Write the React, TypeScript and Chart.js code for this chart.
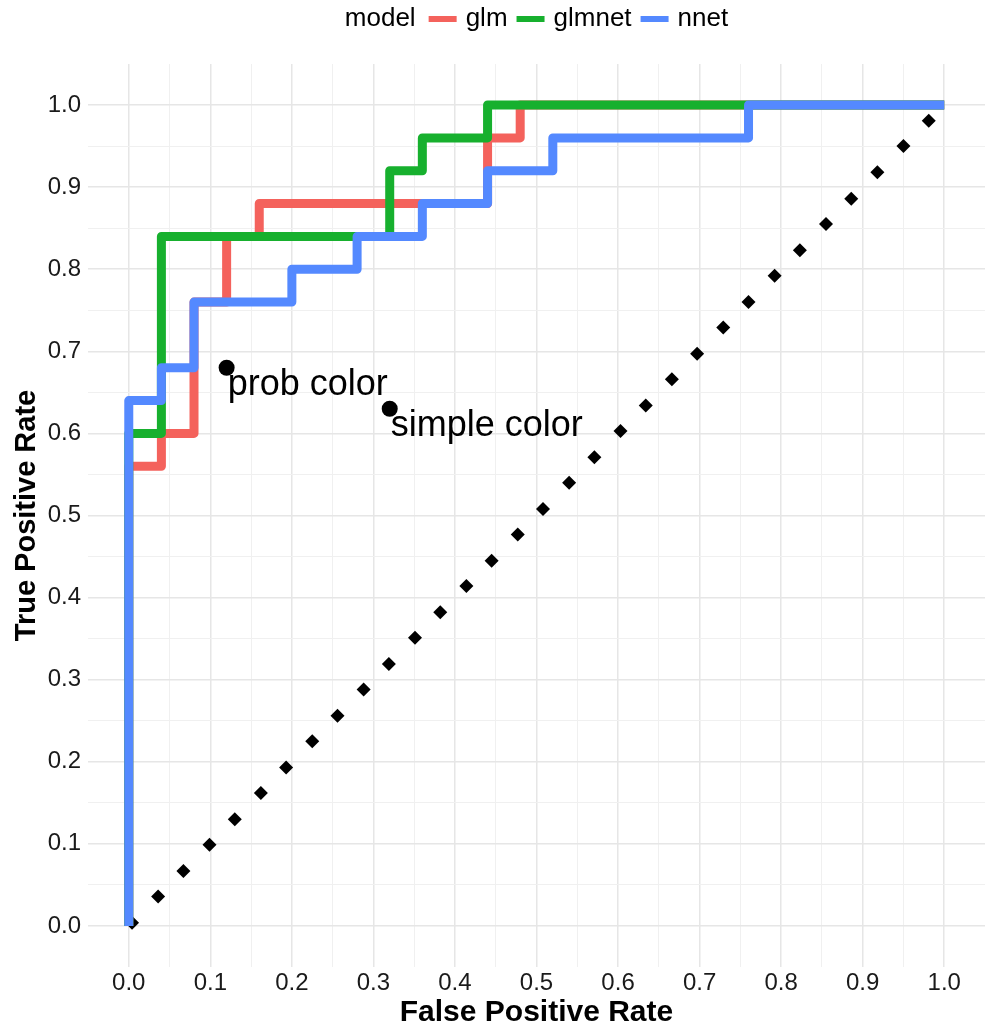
import React, { useEffect, useRef } from "react";
import { Chart, registerables } from "chart.js";

Chart.register(...registerables);

// ---- axis ticks ----
const majorTicks = [0, 0.1, 0.2, 0.3, 0.4, 0.5, 0.6, 0.7, 0.8, 0.9, 1.0];
const tickLabels = ["0.0", "0.1", "0.2", "0.3", "0.4", "0.5", "0.6", "0.7", "0.8", "0.9", "1.0"];
const minorTicks = [0.05, 0.15, 0.25, 0.35, 0.45, 0.55, 0.65, 0.75, 0.85, 0.95];

// ---- legend / series ----
const modelNames = ["glm", "glmnet", "nnet"];
const modelColors = ["#F4625C", "#17B02E", "#5489FF"];

const glmFpr = [0, 0, 0.04, 0.04, 0.08, 0.08, 0.12, 0.12, 0.16, 0.16, 0.44, 0.44, 0.48, 0.48, 1.0];
const glmTpr = [0, 0.56, 0.56, 0.6, 0.6, 0.76, 0.76, 0.84, 0.84, 0.88, 0.88, 0.96, 0.96, 1.0, 1.0];

const glmnetFpr = [0, 0, 0.04, 0.04, 0.32, 0.32, 0.36, 0.36, 0.44, 0.44, 1.0];
const glmnetTpr = [0, 0.6, 0.6, 0.84, 0.84, 0.92, 0.92, 0.96, 0.96, 1.0, 1.0];

const nnetFpr = [0, 0, 0.04, 0.04, 0.08, 0.08, 0.2, 0.2, 0.28, 0.28, 0.36, 0.36, 0.44, 0.44, 0.52, 0.52, 0.76, 0.76, 1.0];
const nnetTpr = [0, 0.64, 0.64, 0.68, 0.68, 0.76, 0.76, 0.8, 0.8, 0.84, 0.84, 0.88, 0.88, 0.92, 0.92, 0.96, 0.96, 1.0, 1.0];

// ---- reference diagonal (diamonds) ----
const diagFpr = [0.004, 0.036, 0.067, 0.099, 0.130, 0.162, 0.193, 0.225, 0.256, 0.288, 0.319, 0.351, 0.382, 0.414, 0.445, 0.477, 0.508, 0.540, 0.571, 0.603, 0.634, 0.666, 0.697, 0.729, 0.760, 0.792, 0.823, 0.855, 0.886, 0.918, 0.950, 0.981];
const diagTpr = [0.004, 0.036, 0.067, 0.099, 0.130, 0.162, 0.193, 0.225, 0.256, 0.288, 0.319, 0.351, 0.382, 0.414, 0.445, 0.477, 0.508, 0.540, 0.571, 0.603, 0.634, 0.666, 0.697, 0.729, 0.760, 0.792, 0.823, 0.855, 0.886, 0.918, 0.950, 0.981];

// ---- annotations ----
const annX = [0.12, 0.32];
const annY = [0.68, 0.63];
const annText = ["prob color", "simple color"];

const FONT = '"Liberation Sans", Arial, Helvetica, sans-serif';

const zip = (xs: number[], ys: number[]) => xs.map((x, i) => ({ x, y: ys[i] }));

const isMajor = (v: number) => majorTicks.some((m) => Math.abs(m - v) < 1e-6);
const labelFor = (v: number) => {
  const idx = majorTicks.findIndex((m) => Math.abs(m - v) < 1e-6);
  return idx >= 0 ? tickLabels[idx] : "";
};

const legendPlugin = {
  id: "ggLegend",
  afterDraw(chart: any) {
    const ctx = chart.ctx as CanvasRenderingContext2D;
    const ca = chart.chartArea;
    ctx.save();
    ctx.font = `26px ${FONT}`;
    ctx.textBaseline = "middle";
    ctx.textAlign = "left";
    ctx.fillStyle = "#000";
    const title = "model";
    const swW = 28;
    const gapTitle = 13;
    const gapSwText = 9;
    const gapItem = 9;
    let total = ctx.measureText(title).width + gapTitle;
    modelNames.forEach((n, i) => {
      total += swW + gapSwText + ctx.measureText(n).width + (i < modelNames.length - 1 ? gapItem : 0);
    });
    let x = (ca.left + ca.right) / 2 - total / 2;
    const y = 19;
    ctx.fillText(title, x, y);
    x += ctx.measureText(title).width + gapTitle;
    modelNames.forEach((n, i) => {
      ctx.fillStyle = modelColors[i];
      ctx.fillRect(x, y - 3, swW, 6);
      x += swW + gapSwText;
      ctx.fillStyle = "#000";
      ctx.fillText(n, x, y);
      x += ctx.measureText(n).width + gapItem;
    });
    ctx.restore();
  },
};

const annotationPlugin = {
  id: "annText",
  afterDatasetsDraw(chart: any) {
    const ctx = chart.ctx as CanvasRenderingContext2D;
    const xs = chart.scales.x;
    const ys = chart.scales.y;
    const size = 36;
    ctx.save();
    ctx.font = `${size}px ${FONT}`;
    ctx.textAlign = "left";
    ctx.textBaseline = "alphabetic";
    ctx.fillStyle = "#000";
    annText.forEach((t, i) => {
      const px = xs.getPixelForValue(annX[i]);
      const py = ys.getPixelForValue(annY[i]);
      ctx.fillText(t, px + 1, py + size * 0.75);
    });
    ctx.restore();
  },
};

const gridColor = (ctx: any) => (ctx.tick && isMajor(ctx.tick.value) ? "#e6e6e6" : "#f0f0f0");
const gridWidth = (ctx: any) => (ctx.tick && isMajor(ctx.tick.value) ? 1.5 : 1);

export default function App() {
  const canvasRef = useRef<HTMLCanvasElement | null>(null);

  useEffect(() => {
    if (!canvasRef.current) return;
    const lineDs = (label: string, xs: number[], ys: number[], color: string, order: number) => ({
      type: "scatter" as const,
      label,
      data: zip(xs, ys),
      showLine: true,
      borderColor: color,
      backgroundColor: color,
      borderWidth: 9,
      borderJoinStyle: "round" as const,
      borderCapStyle: "butt" as const,
      pointRadius: 0,
      pointHoverRadius: 0,
      fill: false,
      order,
    });

    const chart = new Chart(canvasRef.current, {
      type: "scatter",
      data: {
        datasets: [
          {
            label: "annotation points",
            data: zip(annX, annY),
            pointStyle: "circle",
            pointRadius: 8,
            pointBorderWidth: 0,
            backgroundColor: "#000",
            borderColor: "#000",
            showLine: false,
            order: 0,
          },
          lineDs(modelNames[2], nnetFpr, nnetTpr, modelColors[2], 1),
          lineDs(modelNames[1], glmnetFpr, glmnetTpr, modelColors[1], 2),
          lineDs(modelNames[0], glmFpr, glmTpr, modelColors[0], 3),
          {
            label: "random",
            data: zip(diagFpr, diagTpr),
            pointStyle: "rectRot",
            pointRadius: 7,
            pointBorderWidth: 0,
            backgroundColor: "#000",
            borderColor: "#000",
            showLine: false,
            order: 4,
          },
        ],
      } as any,
      options: {
        responsive: false,
        animation: false,
        events: [],
        layout: { padding: { top: 64, right: 3, left: 0, bottom: 0 } },
        plugins: {
          legend: { display: false },
          tooltip: { enabled: false },
        },
        scales: {
          x: {
            type: "linear",
            min: -0.05,
            max: 1.05,
            afterBuildTicks: (axis: any) => {
              axis.ticks = [...majorTicks, ...minorTicks].sort((a, b) => a - b).map((v) => ({ value: v }));
            },
            afterFit: (axis: any) => {
              axis.height = 64;
              axis.paddingLeft = 0;
              axis.paddingRight = 0;
            },
            grid: { color: gridColor, lineWidth: gridWidth, drawTicks: false },
            border: { display: false },
            ticks: {
              autoSkip: false,
              maxRotation: 0,
              padding: 2,
              color: "#1a1a1a",
              font: { family: FONT, size: 24 },
              callback: (v: any) => labelFor(Number(v)),
            },
            title: {
              display: true,
              text: "False Positive Rate",
              color: "#000",
              font: { family: FONT, size: 30, weight: "bold" },
              padding: { top: 0, bottom: 0 },
            },
          },
          y: {
            type: "linear",
            min: -0.05,
            max: 1.05,
            afterBuildTicks: (axis: any) => {
              axis.ticks = [...majorTicks, ...minorTicks].sort((a, b) => a - b).map((v) => ({ value: v }));
            },
            afterFit: (axis: any) => {
              axis.width = 88;
              axis.paddingTop = 0;
              axis.paddingBottom = 0;
            },
            grid: { color: gridColor, lineWidth: gridWidth, drawTicks: false },
            border: { display: false },
            ticks: {
              autoSkip: false,
              padding: 7,
              color: "#1a1a1a",
              font: { family: FONT, size: 24 },
              callback: (v: any) => labelFor(Number(v)),
            },
            title: {
              display: true,
              text: "True Positive Rate",
              color: "#000",
              font: { family: FONT, size: 29, weight: "bold" },
              padding: { top: 10, bottom: 0 },
            },
          },
        },
      } as any,
      plugins: [legendPlugin, annotationPlugin],
    });
    return () => chart.destroy();
  }, []);

  return (
    <div style={{ position: "absolute", left: 0, top: 0, width: 993, height: 1031, background: "#fff" }}>
      <canvas ref={canvasRef} width={993} height={1031} style={{ display: "block" }} />
    </div>
  );
}
